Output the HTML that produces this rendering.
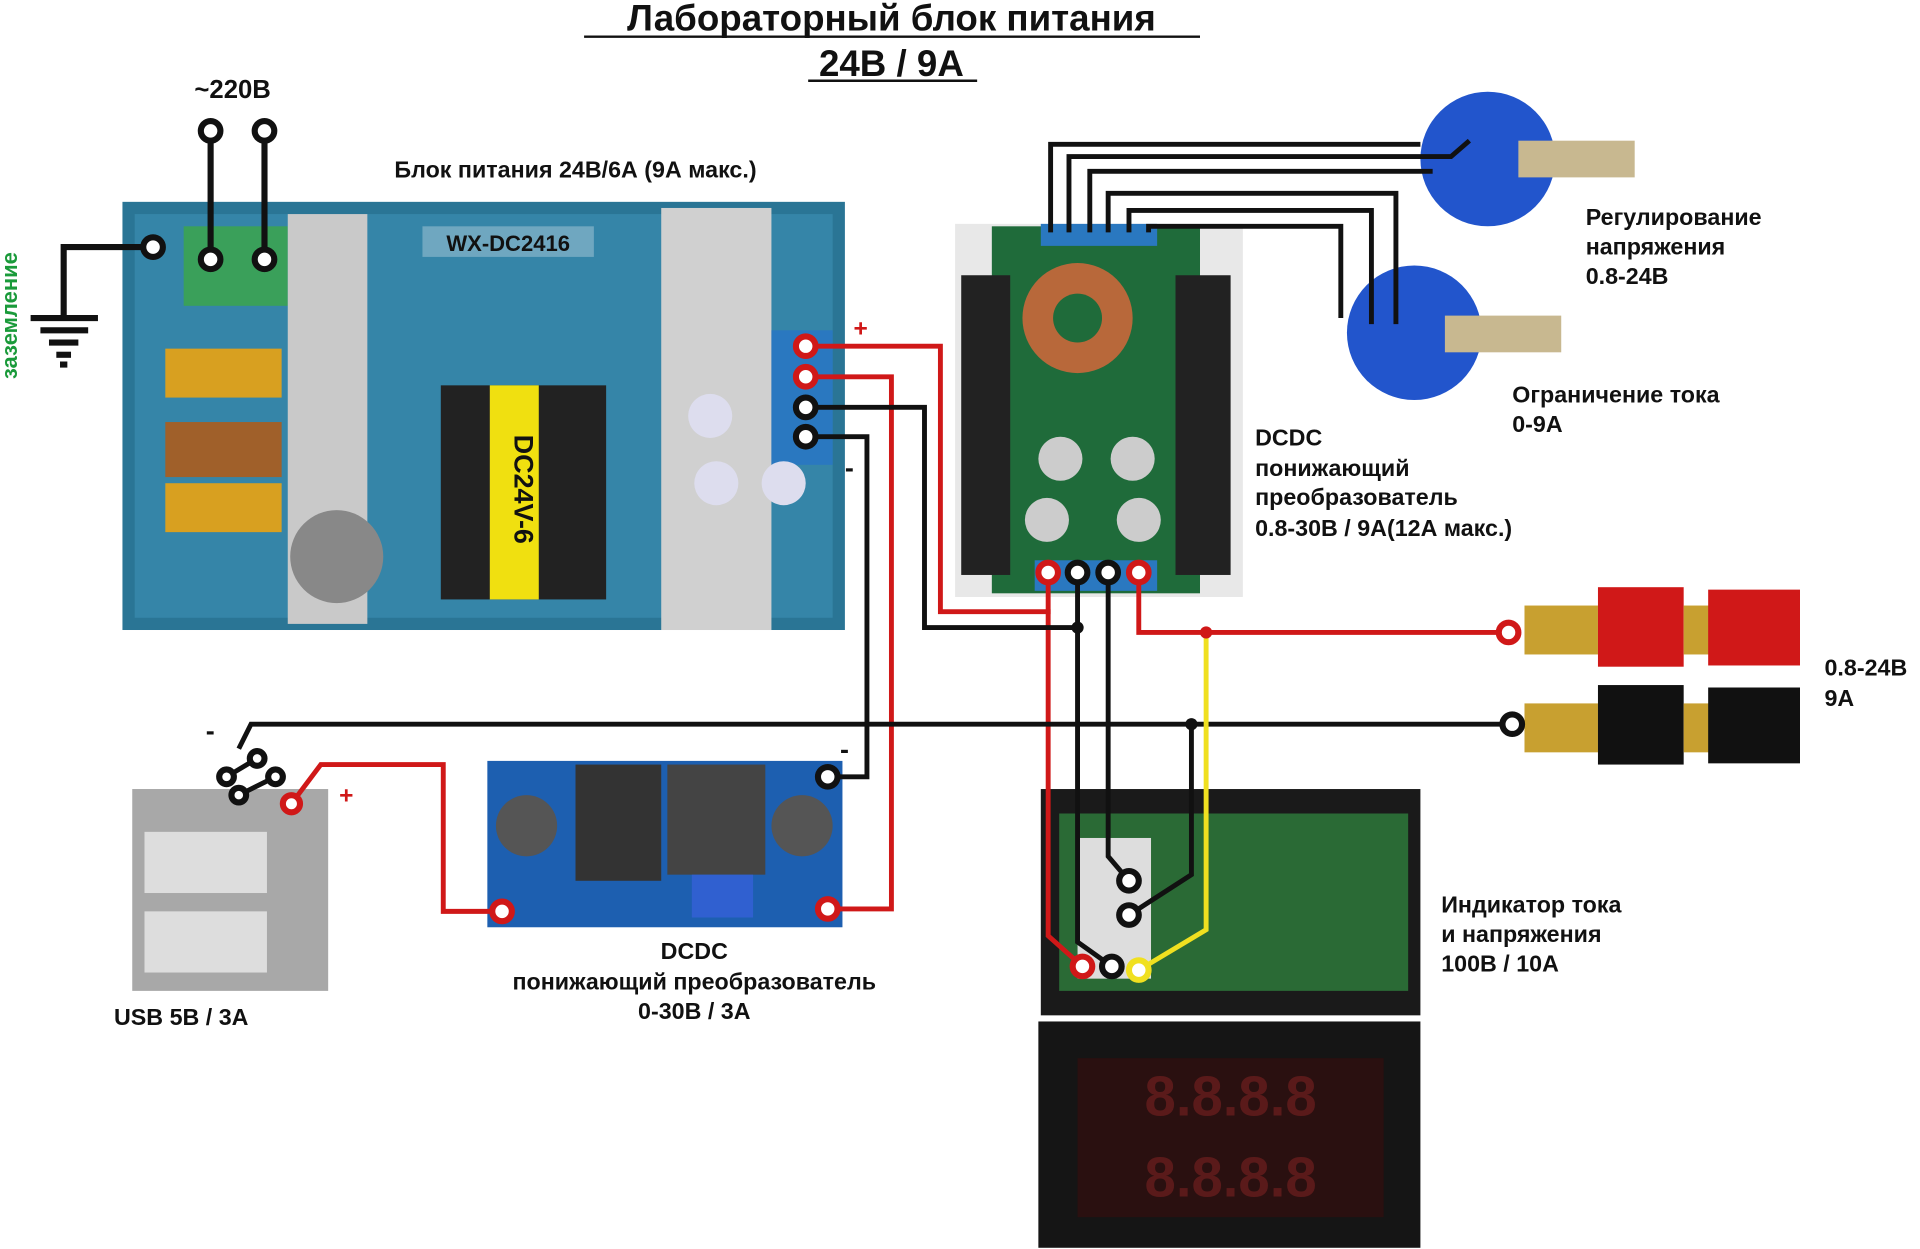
<!DOCTYPE html>
<html><head><meta charset="utf-8"><style>
html,body{margin:0;padding:0;background:#fff;}
svg{display:block;}
text{font-family:"Liberation Sans",sans-serif;font-weight:bold;fill:#111;}
</style></head><body>
<svg width="1920" height="1249" viewBox="0 0 1568 1021" preserveAspectRatio="none" xmlns="http://www.w3.org/2000/svg">
<rect width="1568" height="1021" fill="#fff"/>
<text x="728" y="25" font-size="30" text-anchor="middle">Лабораторный блок питания</text>
<line x1="477" y1="30" x2="980" y2="30" stroke="#111" stroke-width="2"/>
<text x="728" y="62" font-size="30" text-anchor="middle">24В / 9А</text>
<line x1="660" y1="66" x2="798" y2="66" stroke="#111" stroke-width="2"/>

<rect x="100" y="165" width="590" height="350" fill="#2a7595"/>
<rect x="110" y="175" width="570" height="330" fill="#3585a8"/>
<rect x="150" y="185" width="85" height="65" fill="#3aa05a"/>
<rect x="235" y="175" width="65" height="335" fill="#c9c9c9"/>
<rect x="540" y="170" width="90" height="345" fill="#d0d0d0"/>
<rect x="630" y="270" width="50" height="110" fill="#2a78c0"/>
<rect x="135" y="285" width="95" height="40" fill="#d8a020"/>
<rect x="135" y="395" width="95" height="40" fill="#d8a020"/>
<rect x="135" y="345" width="95" height="45" fill="#a0602a"/>
<rect x="360" y="315" width="135" height="175" fill="#222"/>
<rect x="400" y="315" width="40" height="175" fill="#f0e010"/>
<text x="420" y="400" font-size="22" text-anchor="middle" transform="rotate(90 420 400)">DC24V-6</text>
<circle cx="275" cy="455" r="38" fill="#888"/>
<circle cx="580" cy="340" r="18" fill="#dde"/>
<circle cx="585" cy="395" r="18" fill="#dde"/>
<circle cx="640" cy="395" r="18" fill="#dde"/>
<rect x="345" y="185" width="140" height="25" fill="#6fa7c0"/>
<text x="415" y="205" font-size="18" text-anchor="middle">WX-DC2416</text>
<text x="470" y="145" font-size="19" text-anchor="middle">Блок питания 24В/6А (9А макс.)</text>

<text x="190" y="80" font-size="21" text-anchor="middle">~220В</text>
<g stroke="#111" stroke-width="5" fill="none">
<line x1="172" y1="115" x2="172" y2="205"/><line x1="216" y1="115" x2="216" y2="205"/>
<polyline points="117,202 52,202 52,258"/>
<line x1="25" y1="260" x2="80" y2="260"/><line x1="33" y1="270" x2="72" y2="270"/><line x1="40" y1="280" x2="64" y2="280"/><line x1="46" y1="290" x2="58" y2="290"/><line x1="49" y1="298" x2="55" y2="298"/>
</g>
<g fill="#fff" stroke="#111" stroke-width="5">
<circle cx="172" cy="107" r="8"/><circle cx="216" cy="107" r="8"/><circle cx="172" cy="212" r="8"/><circle cx="216" cy="212" r="8"/><circle cx="125" cy="202" r="8"/>
</g>
<text x="14" y="258" font-size="18" text-anchor="middle" transform="rotate(-90 14 258)" style="fill:#1a9a3a">заземление</text>

<rect x="780" y="183" width="235" height="305" fill="#e8e8e8"/>
<rect x="810" y="185" width="170" height="300" fill="#1f6b3a"/>
<rect x="785" y="225" width="40" height="245" fill="#222"/>
<rect x="960" y="225" width="45" height="245" fill="#222"/>
<circle cx="880" cy="260" r="45" fill="#b8683a"/><circle cx="880" cy="260" r="20" fill="#1f6b3a"/>
<circle cx="866" cy="375" r="18" fill="#ccc"/><circle cx="925" cy="375" r="18" fill="#ccc"/>
<circle cx="855" cy="425" r="18" fill="#ccc"/><circle cx="930" cy="425" r="18" fill="#ccc"/>
<rect x="850" y="183" width="95" height="18" fill="#2a78c0"/>
<rect x="845" y="458" width="100" height="25" fill="#2a78c0"/>
<text x="1025" y="364" font-size="19">DCDC</text>
<text x="1025" y="389" font-size="19">понижающий</text>
<text x="1025" y="413" font-size="19">преобразователь</text>
<text x="1025" y="438" font-size="19">0.8-30В / 9А(12А макс.)</text>

<circle cx="1215" cy="130" r="55" fill="#2255cc"/><rect x="1240" y="115" width="95" height="30" fill="#c8b890"/>
<circle cx="1155" cy="272" r="55" fill="#2255cc"/><rect x="1180" y="258" width="95" height="30" fill="#c8b890"/>
<text x="1295" y="184" font-size="19">Регулирование</text>
<text x="1295" y="208" font-size="19">напряжения</text>
<text x="1295" y="232" font-size="19">0.8-24В</text>
<text x="1235" y="329" font-size="19">Ограничение тока</text>
<text x="1235" y="353" font-size="19">0-9А</text>

<rect x="1245" y="495" width="60" height="40" fill="#c8a030"/>
<rect x="1305" y="480" width="70" height="65" fill="#d01818"/><rect x="1375" y="495" width="25" height="40" fill="#c8a030"/><rect x="1395" y="482" width="75" height="62" fill="#d01818"/>
<rect x="1245" y="575" width="60" height="40" fill="#c8a030"/>
<rect x="1305" y="560" width="70" height="65" fill="#111"/><rect x="1375" y="575" width="25" height="40" fill="#c8a030"/><rect x="1395" y="562" width="75" height="62" fill="#111"/>
<text x="1490" y="552" font-size="19">0.8-24В</text>
<text x="1490" y="577" font-size="19">9А</text>

<rect x="108" y="645" width="160" height="165" fill="#a8a8a8"/>
<rect x="118" y="680" width="100" height="50" fill="#ddd"/><rect x="118" y="745" width="100" height="50" fill="#ddd"/>
<text x="148" y="838" font-size="19" text-anchor="middle">USB 5В / 3А</text>

<rect x="398" y="622" width="290" height="136" fill="#1d5fb0"/>
<rect x="470" y="625" width="70" height="95" fill="#333"/>
<rect x="545" y="625" width="80" height="90" fill="#444"/>
<circle cx="430" cy="675" r="25" fill="#555"/><circle cx="655" cy="675" r="25" fill="#555"/>
<rect x="565" y="715" width="50" height="35" fill="#3060d0"/>
<text x="567" y="784" font-size="19" text-anchor="middle">DCDC</text>
<text x="567" y="809" font-size="19" text-anchor="middle">понижающий преобразователь</text>
<text x="567" y="833" font-size="19" text-anchor="middle">0-30В / 3А</text>

<rect x="850" y="645" width="310" height="185" fill="#1a1a1a"/>
<rect x="865" y="665" width="285" height="145" fill="#2a6a35"/>
<rect x="880" y="685" width="60" height="115" fill="#ddd"/>
<rect x="848" y="835" width="312" height="185" fill="#151515"/>
<rect x="880" y="865" width="250" height="130" fill="#2a1010"/>
<text x="1005" y="912" font-size="46" text-anchor="middle" style="fill:#5a1a1a">8.8.8.8</text>
<text x="1005" y="978" font-size="46" text-anchor="middle" style="fill:#5a1a1a">8.8.8.8</text>
<text x="1177" y="746" font-size="19">Индикатор тока</text>
<text x="1177" y="770" font-size="19">и напряжения</text>
<text x="1177" y="794" font-size="19">100В / 10А</text>

<g stroke="#111" stroke-width="4" fill="none">
<polyline points="858,190 858,118 1160,118"/>
<polyline points="873,190 873,128 1185,128 1200,115"/>
<polyline points="890,190 890,140 1170,140"/>
<polyline points="905,190 905,158 1140,158 1140,265"/>
<polyline points="922,190 922,172 1120,172 1120,265"/>
<polyline points="938,190 938,185 1095,185 1095,260"/>
</g>

<g stroke="#d01818" stroke-width="4" fill="none">
<polyline points="658,283 768,283 768,500 858,500"/>
<polyline points="658,308 728,308 728,743 676,743"/>
<polyline points="856,468 856,765 884,790"/>
<polyline points="930,468 930,517 1232,517"/>
<polyline points="238,657 262,625 362,625 362,745 410,745"/>
</g>
<g stroke="#111" stroke-width="4" fill="none">
<polyline points="658,333 755,333 755,513 880,513"/>
<polyline points="658,357 708,357 708,635 676,635"/>
<polyline points="880,468 880,770 908,790"/>
<polyline points="905,468 905,700 922,720"/>
<polyline points="195,612 205,592 1235,592"/>
<polyline points="973,592 973,715 922,748"/>
<polyline points="185,635 210,620"/><polyline points="195,650 225,635"/>
</g>
<polyline points="985,517 985,760 930,793" stroke="#f0e020" stroke-width="4" fill="none"/>
<g fill="#111"><circle cx="880" cy="513" r="5"/><circle cx="985" cy="517" r="5" fill="#d01818"/><circle cx="973" cy="592" r="5"/></g>
<g fill="#fff" stroke-width="5">
<circle cx="658" cy="283" r="8" stroke="#d01818"/><circle cx="658" cy="308" r="8" stroke="#d01818"/>
<circle cx="658" cy="333" r="8" stroke="#111"/><circle cx="658" cy="357" r="8" stroke="#111"/>
<circle cx="856" cy="468" r="8" stroke="#d01818"/><circle cx="880" cy="468" r="8" stroke="#111"/>
<circle cx="905" cy="468" r="8" stroke="#111"/><circle cx="930" cy="468" r="8" stroke="#d01818"/>
<circle cx="1232" cy="517" r="8" stroke="#d01818"/><circle cx="1235" cy="592" r="8" stroke="#111"/>
<circle cx="676" cy="635" r="8" stroke="#111"/><circle cx="676" cy="743" r="8" stroke="#d01818"/>
<circle cx="410" cy="745" r="8" stroke="#d01818"/><circle cx="238" cy="657" r="7" stroke="#d01818"/>
<circle cx="884" cy="790" r="8" stroke="#d01818"/><circle cx="908" cy="790" r="8" stroke="#111"/>
<circle cx="930" cy="793" r="8" stroke="#f0e020"/><circle cx="922" cy="720" r="8" stroke="#111"/>
<circle cx="922" cy="748" r="8" stroke="#111"/>
<circle cx="185" cy="635" r="6" stroke="#111"/><circle cx="210" cy="620" r="6" stroke="#111"/><circle cx="225" cy="635" r="6" stroke="#111"/><circle cx="195" cy="650" r="6" stroke="#111"/>
</g>
<text x="697" y="275" font-size="20" style="fill:#d01818">+</text>
<text x="690" y="390" font-size="22">-</text>
<text x="168" y="605" font-size="22">-</text>
<text x="277" y="657" font-size="20" style="fill:#d01818">+</text>
<text x="686" y="620" font-size="22">-</text>
</svg>
</body></html>
